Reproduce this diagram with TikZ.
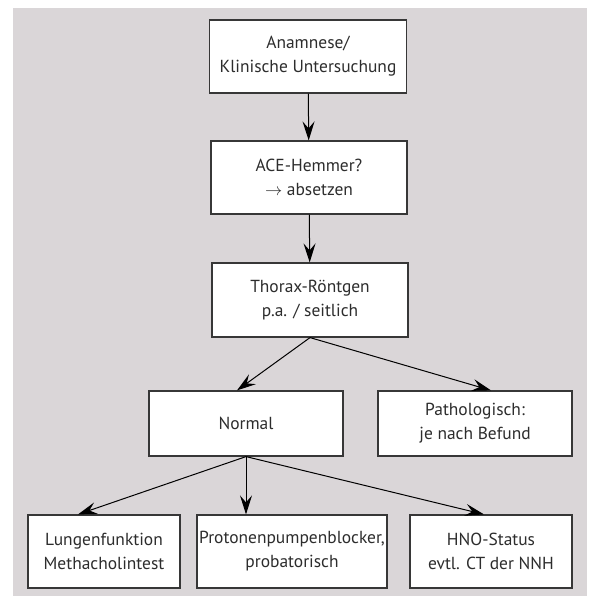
\documentclass[tikz,border=0pt]{standalone}
\usepackage{fontspec}
\setmainfont{PT Sans}
\usetikzlibrary{arrows.meta}
\definecolor{bggrey}{RGB}{218,214,216}
\definecolor{boxline}{RGB}{55,55,55}
\definecolor{txt}{RGB}{45,45,45}

\begin{document}
\begin{tikzpicture}[x=1bp, y=-1bp,
    box/.style={draw=boxline, fill=white, line width=1.2bp, align=center, inner sep=0pt,
        minimum height=73bp, text=txt, font=\fontsize{17.5}{24}\selectfont},
    arr/.style={-{Stealth[length=19bp, width=12bp, inset=7bp]}, line width=1bp}]
    \useasboundingbox (0,0) rectangle (592,596);
    \fill[bggrey] (13,8) rectangle (587,596);

    \node[box, minimum width=197bp] (anam) at (308, 56.5) {Anamnese/\\Klinische Untersuchung};
    \node[box, minimum width=196bp] (ace) at (309, 177.5) {ACE-Hemmer?\\$\rightarrow$ absetzen};
    \node[box, minimum width=196bp, minimum height=74bp] (thorax) at (310, 300) {Thorax-Röntgen\\p.a. / seitlich};
    \node[box, minimum width=194bp, minimum height=65bp] (normal) at (246, 423.5) {Normal};
    \node[box, minimum width=194bp, minimum height=65bp] (patho) at (475, 423.5) {Pathologisch:\\je nach Befund};
    \node[box, minimum width=152bp] (lunge) at (104, 551.5) {Lungenfunktion\\Methacholintest};
    \node[box, minimum width=190bp] (ppi) at (292, 551.5) {Protonenpumpenblocker,\\probatorisch};
    \node[box, minimum width=162bp] (hno) at (491, 551.5) {HNO-Status\\evtl. CT der NNH};

    \draw[arr] (anam) -- (ace);
    \draw[arr] (ace) -- (thorax);
    \draw[arr] (thorax.south) -- ([xshift=-9bp]normal.north);
    \draw[arr] (thorax.south) -- ([xshift=16bp]patho.north);
    \draw[arr] (normal.south) -- ([xshift=-26bp]lunge.north);
    \draw[arr] (normal.south) -- (normal.south |- ppi.north);
    \draw[arr] (normal.south) -- ([xshift=-7bp]hno.north);
\end{tikzpicture}
\end{document}
